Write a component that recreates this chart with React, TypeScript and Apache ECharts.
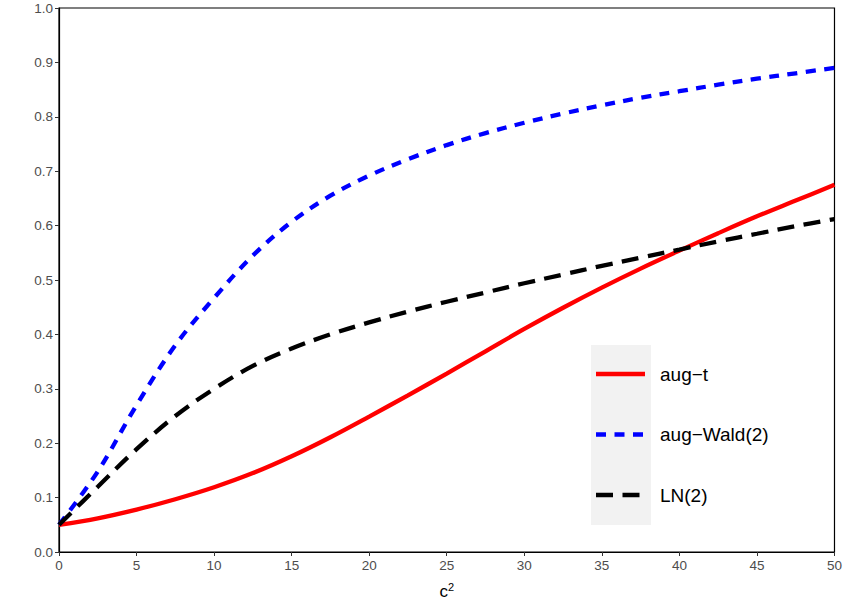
import React, { useEffect, useRef } from "react";
import * as echarts from "echarts";

const cValues = [0, 2.5, 5, 7.5, 10, 12.5, 15, 17.5, 20, 22.5, 25, 27.5, 30, 32.5, 35, 37.5, 40, 42.5, 45, 47.5, 50];
const augT = [0.05, 0.062, 0.078, 0.097, 0.119, 0.145, 0.176, 0.211, 0.249, 0.288, 0.328, 0.369, 0.41, 0.449, 0.486, 0.521, 0.554, 0.586, 0.617, 0.646, 0.675];
const augWald = [0.05, 0.148, 0.27, 0.38, 0.467, 0.545, 0.607, 0.655, 0.692, 0.722, 0.748, 0.77, 0.789, 0.806, 0.821, 0.835, 0.847, 0.859, 0.87, 0.88, 0.89];
const ln2 = [0.05, 0.12, 0.189, 0.25, 0.3, 0.342, 0.374, 0.4, 0.422, 0.442, 0.46, 0.477, 0.494, 0.51, 0.526, 0.541, 0.556, 0.571, 0.585, 0.599, 0.612];
const seriesNames = ["aug\u2212t", "aug\u2212Wald(2)", "LN(2)"];
const seriesColors = ["#ff0000", "#0000ff", "#000000"];
const seriesDashes: (number[] | null)[] = [null, [10, 8.5], [17, 9.5]];

const pair = (ys: number[]) => cValues.map((c, i) => [c, ys[i]]);

export default function App() {
  const ref = useRef<HTMLDivElement>(null);
  useEffect(() => {
    document.body.style.margin = "0";
    const chart = echarts.init(ref.current!, null, { renderer: "svg" });
    const font = "Liberation Sans, Arial, Helvetica, sans-serif";
    const legendItems: any[] = [];
    seriesNames.forEach((name, i) => {
      const cy = 374 + i * 60.5;
      legendItems.push({
        type: "line",
        shape: { x1: 596, y1: cy, x2: 645, y2: cy },
        style: { stroke: seriesColors[i], lineWidth: 4.3, lineDash: seriesDashes[i] || undefined },
        z: 10,
      });
      legendItems.push({
        type: "text",
        x: 660,
        y: cy,
        style: { text: name, fill: "#000", fontSize: 19, fontFamily: font, textVerticalAlign: "middle", verticalAlign: "middle" },
        z: 10,
      });
    });
    const series = [augT, augWald, ln2].map((ys, i) => ({
      name: seriesNames[i],
      type: "line",
      data: pair(ys),
      smooth: 0.35,
      showSymbol: false,
      symbol: "none",
      lineStyle: { color: seriesColors[i], width: 4.3, type: seriesDashes[i] || "solid", cap: "butt" },
      itemStyle: { color: seriesColors[i] },
    }));
    chart.setOption({
      animation: false,
      textStyle: { fontFamily: font },
      grid: { left: 59, right: 9, top: 8, bottom: 58, show: true, borderColor: "#000", borderWidth: 1.2 },
      xAxis: {
        type: "value",
        min: 0,
        max: 50,
        interval: 5,
        name: "c{sup|2}",
        nameLocation: "middle",
        nameGap: 29,
        nameTextStyle: {
          color: "#000",
          fontSize: 17,
          fontFamily: font,
          rich: { sup: { fontSize: 11, verticalAlign: "top", padding: [0, 0, 10, 0], color: "#000", fontFamily: font } },
        },
        splitLine: { show: false },
        axisLine: { show: true, lineStyle: { color: "#000", width: 1.2 } },
        axisTick: { show: true, length: 4, lineStyle: { color: "#333" } },
        axisLabel: { color: "#4d4d4d", fontSize: 13.5, margin: 6, fontFamily: font },
      },
      yAxis: {
        type: "value",
        min: 0,
        max: 1,
        interval: 0.1,
        splitLine: { show: false },
        axisLine: { show: true, lineStyle: { color: "#000", width: 1.2 } },
        axisTick: { show: true, length: 4, lineStyle: { color: "#333" } },
        axisLabel: { color: "#4d4d4d", fontSize: 13.5, margin: 6, fontFamily: font, formatter: (v: number) => v.toFixed(1) },
      },
      graphic: [
        { type: "rect", left: 591, top: 345, shape: { width: 60, height: 180 }, style: { fill: "#f2f2f2" }, z: 1 },
        ...legendItems,
      ],
      series,
    });
    return () => chart.dispose();
  }, []);
  return <div ref={ref} style={{ width: 845, height: 610 }} />;
}
